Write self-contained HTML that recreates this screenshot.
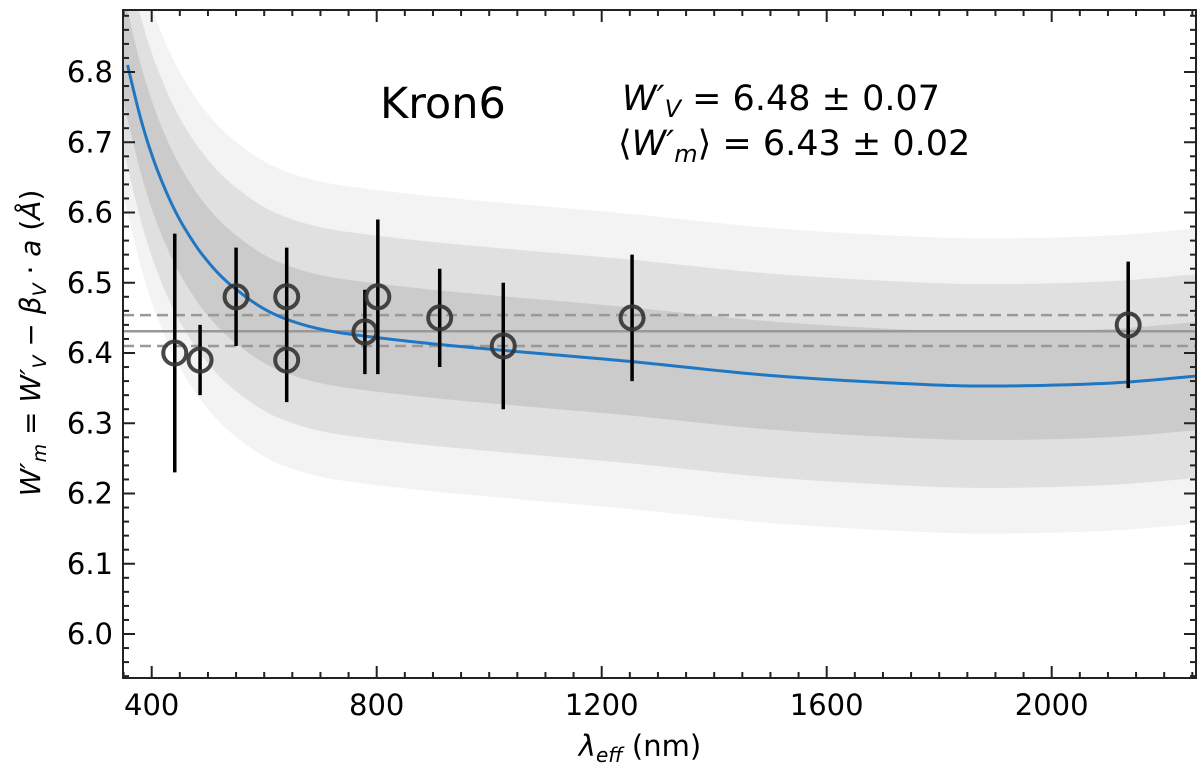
<!DOCTYPE html>
<html><head><meta charset="utf-8"><style>
body{margin:0;background:#fff}
svg{display:block;font-family:"DejaVu Sans","Liberation Sans",sans-serif}
</style></head><body>
<svg id="c" width="1200" height="773"></svg>
<script>
const curveX=[357,380,402,425,447,470,491,520,551,595,640,700,770,900,1050,1250,1500,1750,1900,2100,2255];
const curveY=[6.81,6.735,6.678,6.631,6.594,6.563,6.539,6.512,6.49,6.465,6.448,6.434,6.425,6.413,6.402,6.388,6.368,6.356,6.353,6.357,6.367];
const bandHalf=[0.21,0.145,0.077];
const ptX=[441,486,550,640,640,779,802,912,1025,1254,2136];
const ptY=[6.40,6.39,6.48,6.48,6.39,6.43,6.48,6.45,6.41,6.45,6.44];
const ptLo=[6.23,6.34,6.41,6.41,6.33,6.37,6.37,6.38,6.32,6.36,6.35];
const ptHi=[6.57,6.44,6.55,6.55,6.45,6.49,6.59,6.52,6.50,6.54,6.53];
const meanVal=6.431, meanLo=6.410, meanHi=6.454;
const xTicks=[400,800,1200,1600,2000];
const yTicks=[6.0,6.1,6.2,6.3,6.4,6.5,6.6,6.7,6.8];

const L=123,R=1196,T=10,B=678;
const X=v=>151.7+(v-400)*0.5625;
const Y=v=>634-(v-6.0)*702.5;
const svg=document.getElementById('c');
const NS='http://www.w3.org/2000/svg';
function mk(tag,attrs,parent){const e=document.createElementNS(NS,tag);for(const k in attrs)e.setAttribute(k,attrs[k]);(parent||svg).appendChild(e);return e;}
const defs=mk('defs',{});const cp=mk('clipPath',{id:'clip'},defs);mk('rect',{x:L,y:T,width:R-L,height:B-T},cp);
const g=mk('g',{'clip-path':'url(#clip)'});

function sample(){const out=[];const n=curveX.length;
 for(let i=0;i<n-1;i++){const p0=i?i-1:i,p3=i+2<n?i+2:i+1;
  for(let s=0;s<20;s++){const t=s/20,t2=t*t,t3=t2*t;
   const f=(a,b,c,d)=>0.5*((2*b)+(-a+c)*t+(2*a-5*b+4*c-d)*t2+(-a+3*b-3*c+d)*t3);
   out.push([f(curveX[p0],curveX[i],curveX[i+1],curveX[p3]),f(curveY[p0],curveY[i],curveY[i+1],curveY[p3])]);}}
 out.push([curveX[n-1],curveY[n-1]]);
 out.unshift([330,curveY[0]+(curveY[0]-curveY[1])/(curveX[1]-curveX[0])*27]);
 return out;}
const S=sample();
const bandColors=['#f3f3f3','#e0e0e0','#cbcbcb'];
bandHalf.forEach((h,i)=>{
 let d='M'+S.map(p=>X(p[0])+','+Y(p[1]+h)).join('L');
 d+='L'+S.slice().reverse().map(p=>X(p[0])+','+Y(p[1]-h)).join('L')+'Z';
 const e=mk('path',{d:d,fill:bandColors[i]},g);
 
 
});
let e=mk('line',{x1:L,x2:R,y1:Y(meanVal),y2:Y(meanVal),stroke:'#999','stroke-width':2.5},g);

[meanLo,meanHi].forEach((v,i)=>{const l=mk('line',{x1:L,x2:R,y1:Y(v),y2:Y(v),stroke:'#999','stroke-width':2.5,'stroke-dasharray':'11,6'},g);
 });
const S2=S.slice(1);
e=mk('path',{d:'M'+S2.map(p=>X(p[0])+','+Y(p[1])).join('L'),fill:'none',stroke:'#1f77c4','stroke-width':3},g);

ptX.forEach((x,i)=>{
 const b=mk('line',{x1:X(x),x2:X(x),y1:Y(ptLo[i]),y2:Y(ptHi[i]),stroke:'#000','stroke-width':3.5},g);
 
 const c=mk('circle',{cx:X(x),cy:Y(ptY[i]),r:11.5,fill:'none',stroke:'#333','stroke-width':4,'stroke-opacity':0.9},g);
 
});
e=mk('rect',{x:L,y:T,width:R-L,height:B-T,fill:'none',stroke:'#222','stroke-width':2});

for(let v=350;v<=2250;v+=50){const px=X(v);if(px<L||px>R)continue;const maj=v%400==0;const len=maj?12:6;
 mk('line',{x1:px,x2:px,y1:B,y2:B-len,stroke:'#222','stroke-width':2});mk('line',{x1:px,x2:px,y1:T,y2:T+len,stroke:'#222','stroke-width':2});}
for(let k=0;k<=48;k++){const v=5.94+k*0.02;const py=Y(v);if(py<T||py>B)continue;const maj=Math.abs(Math.round(v*10)-v*10)<1e-6;const len=maj?12:6;
 mk('line',{x1:L,x2:L+len,y1:py,y2:py,stroke:'#222','stroke-width':2});mk('line',{x1:R,x2:R-len,y1:py,y2:py,stroke:'#222','stroke-width':2});}
xTicks.forEach(v=>{const t=mk('text',{x:X(v),y:715,'font-size':29,'text-anchor':'middle',fill:'#000'});t.textContent=v;
 });
yTicks.forEach(v=>{const t=mk('text',{x:113,y:Y(v)+10,'font-size':29,'text-anchor':'end',fill:'#000'});t.textContent=v.toFixed(1);
 });
</script>
<svg width="1200" height="773" style="position:absolute;left:0;top:0">
<text x="640" y="756" font-size="29" text-anchor="middle" font-family="DejaVu Sans,sans-serif"><tspan font-style="italic">λ</tspan><tspan font-style="italic" font-size="20" dy="6">eff</tspan><tspan dy="-6"> (nm)</tspan></text>
<text transform="translate(40,343) rotate(-90)" font-size="28" text-anchor="middle" font-family="DejaVu Sans,sans-serif" font-style="italic">W′<tspan font-size="19" dy="6">m</tspan><tspan dy="-6" font-style="normal"> = </tspan>W′<tspan font-size="19" dy="6">V</tspan><tspan dy="-6" font-style="normal"> − </tspan>β<tspan font-size="19" dy="6">V</tspan><tspan dy="-6" font-style="normal"> · </tspan>a<tspan font-style="normal"> (</tspan>Å<tspan font-style="normal">)</tspan></text>
<text x="380" y="118" font-size="43" font-family="DejaVu Sans,sans-serif">Kron6</text>
<text x="622" y="110" font-size="35" font-family="DejaVu Sans,sans-serif"><tspan font-style="italic">W′</tspan><tspan font-style="italic" font-size="24" dy="7">V</tspan><tspan dy="-7"> = 6.48 ± 0.07</tspan></text>
<text x="618" y="155" font-size="35" font-family="DejaVu Sans,sans-serif">⟨<tspan font-style="italic">W′</tspan><tspan font-style="italic" font-size="24" dy="7">m</tspan><tspan dy="-7">⟩ = 6.43 ± 0.02</tspan></text>
</svg>
</body></html>
